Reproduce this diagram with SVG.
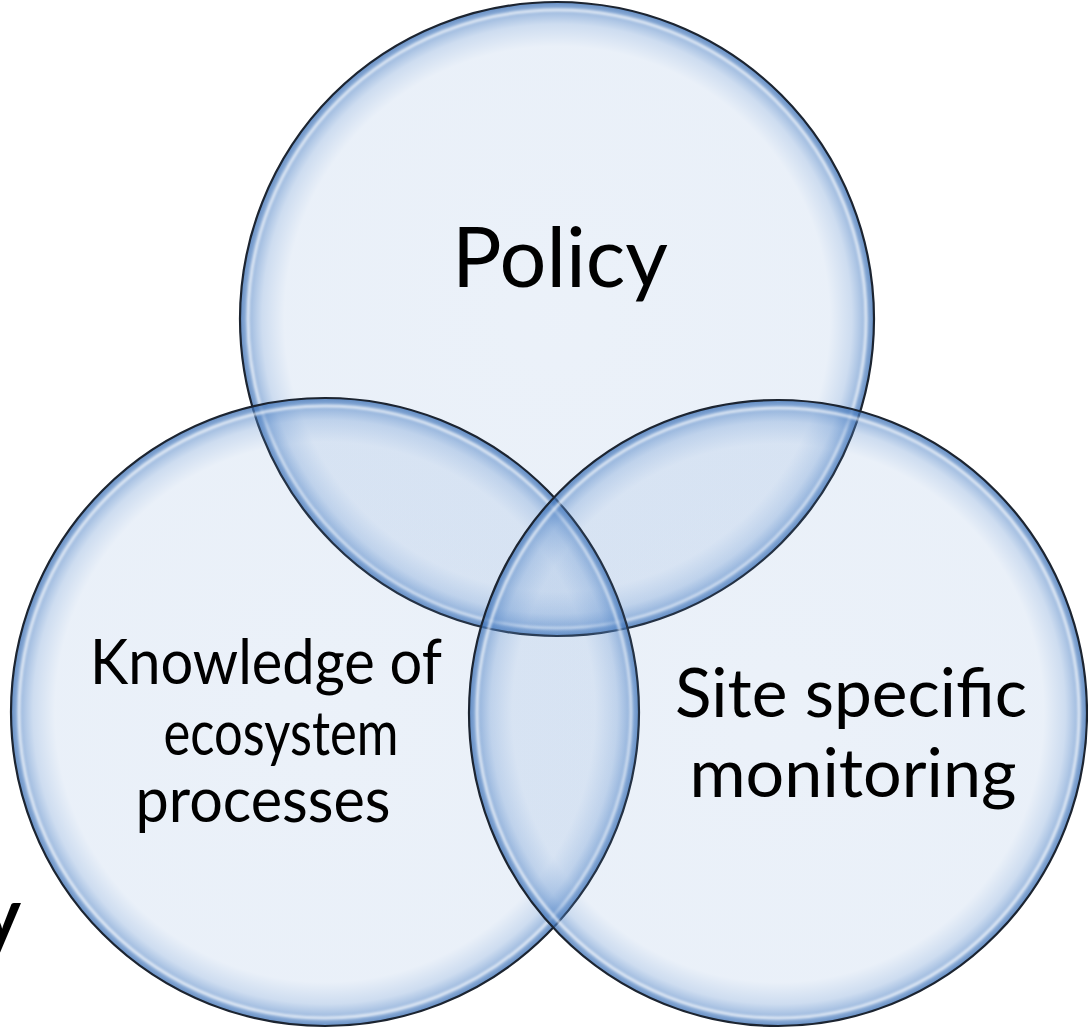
<svg xmlns="http://www.w3.org/2000/svg" width="1088" height="1029" viewBox="0 0 1088 1029">
  <defs>
    <!-- translucent bubble fill: pale centre, deeper blue rim -->
    <radialGradient id="bubble" cx="0.5" cy="0.5" r="0.5">
      <stop offset="0" stop-color="#5A8CCD" stop-opacity="0.12"/>
      <stop offset="0.86" stop-color="#5A8CCD" stop-opacity="0.13"/>
      <stop offset="0.93" stop-color="#5A8CCD" stop-opacity="0.3"/>
      <stop offset="0.975" stop-color="#4F82C4" stop-opacity="0.58"/>
      <stop offset="1" stop-color="#3F72B5" stop-opacity="0.8"/>
    </radialGradient>
    <filter id="soft" x="-5%" y="-5%" width="110%" height="110%">
      <feGaussianBlur stdDeviation="1.2"/>
    </filter>
  </defs>
  <style>
    .fill { fill: url(#bubble); }
    .gloss { fill: none; stroke: #FFFFFF; stroke-width: 3; stroke-opacity: 0.65; filter: url(#soft); }
    .rim { fill: none; stroke: #1C2430; stroke-width: 2.2; }
    .label { font-family: Lato, "Liberation Sans", sans-serif; fill: #000000; text-anchor: middle; }
  </style>

  <rect width="1088" height="1029" fill="#FFFFFF"/>

  <!-- cropped bold letter at the far left edge -->
  <text x="21" y="941" font-family="Lato, 'Liberation Sans', sans-serif" font-weight="bold" font-size="74" text-anchor="end" fill="#000000">y</text>

  <g id="policy">
    <circle class="fill" cx="557" cy="319" r="317"/>
    <circle class="gloss" cx="557" cy="319" r="309"/>
    <circle class="rim" cx="557" cy="319" r="317"/>
  </g>

  <g id="knowledge">
    <circle class="fill" cx="325" cy="712" r="314"/>
    <circle class="gloss" cx="325" cy="712" r="306"/>
    <circle class="rim" cx="325" cy="712" r="314"/>
  </g>

  <g id="monitoring">
    <ellipse class="fill" cx="778" cy="713" rx="309" ry="313"/>
    <ellipse class="gloss" cx="778" cy="713" rx="301" ry="305"/>
    <ellipse class="rim" cx="778" cy="713" rx="309" ry="313"/>
  </g>

  <g id="labels">
    <text class="label" x="560" y="287" font-size="84" textLength="216" lengthAdjust="spacingAndGlyphs">Policy</text>
    <text class="label" x="266" y="684" font-size="61" textLength="352" lengthAdjust="spacingAndGlyphs">Knowledge of</text>
    <text class="label" x="281" y="755" font-size="61" textLength="235" lengthAdjust="spacingAndGlyphs">ecosystem</text>
    <text class="label" x="263" y="822" font-size="61" textLength="255" lengthAdjust="spacingAndGlyphs">processes</text>
    <text class="label" x="851" y="717" font-size="67" textLength="352" lengthAdjust="spacingAndGlyphs">Site specific</text>
    <text class="label" x="853" y="797" font-size="67" textLength="327" lengthAdjust="spacingAndGlyphs">monitoring</text>
  </g>
</svg>
